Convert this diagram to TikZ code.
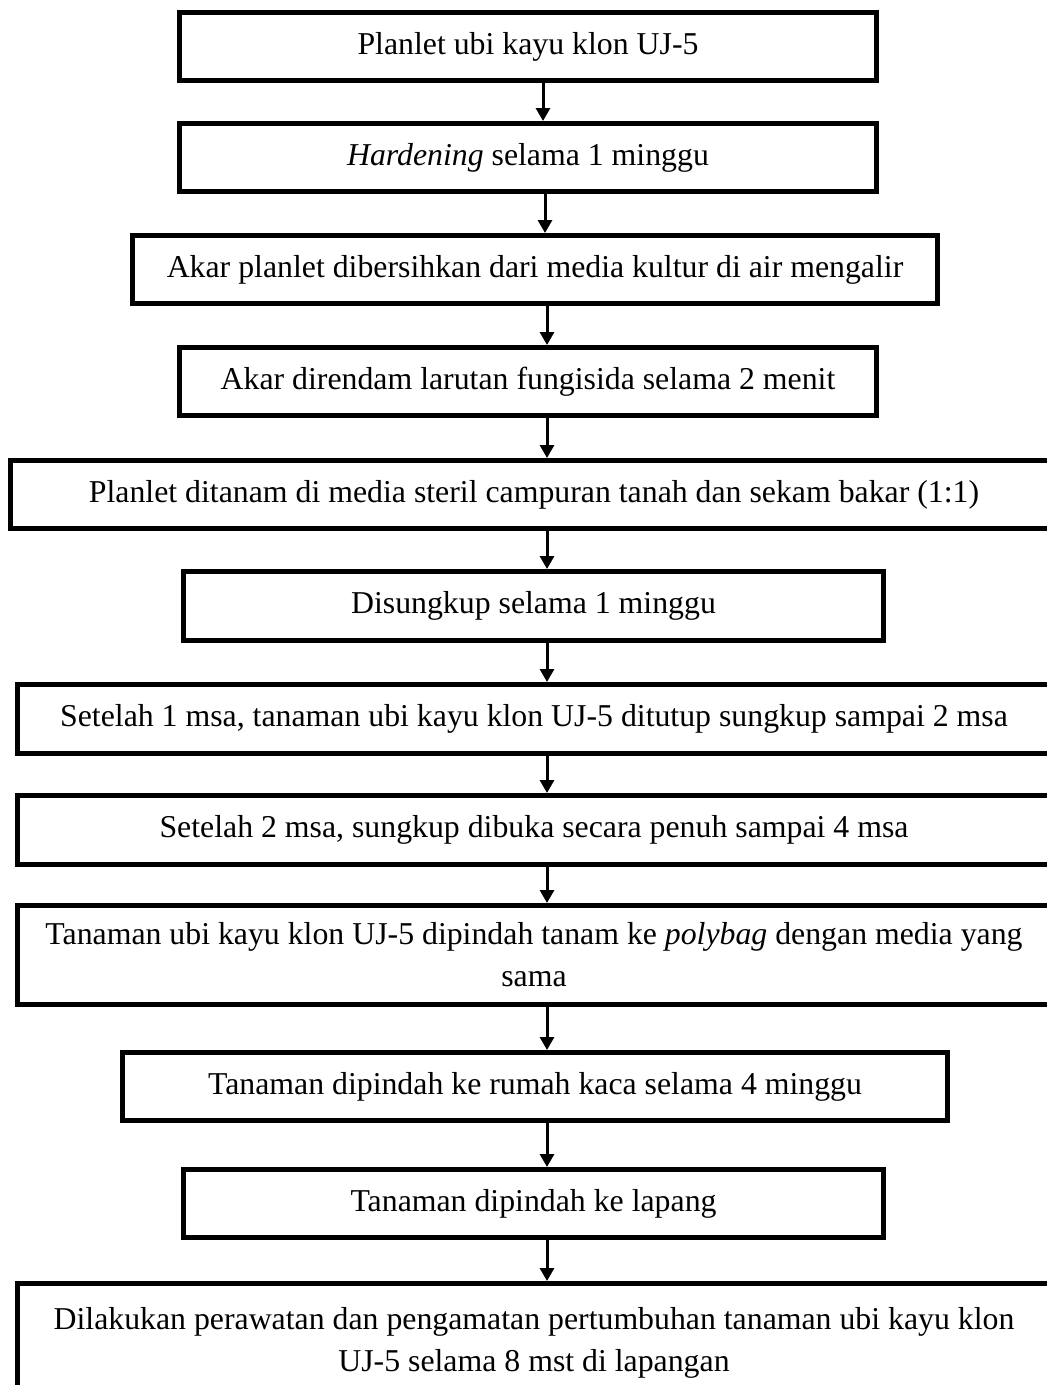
\documentclass[tikz,border=0pt]{standalone}
\usepackage{fontspec}
\setmainfont{Liberation Serif}
\usetikzlibrary{arrows.meta}
\begin{document}
\begin{tikzpicture}[x=1pt,y=-1pt,
  stepbox/.style={draw, line width=5pt, inner sep=0pt, align=center,
    font=\fontsize{31.8}{42}\selectfont},
  arr/.style={line width=3pt, -{Triangle[width=14pt,length=13pt]}}]
\clip (0,0) rectangle (1047,1385);
\fill[white] (0,0) rectangle (1047,1385);
\coordinate (axA) at (543,0);
\coordinate (axB) at (545,0);
\coordinate (ax) at (547,0);
\node[stepbox, minimum width=697pt, minimum height=68pt] (b1) at (528,46.5) {Planlet ubi kayu klon UJ-5};
\node[stepbox, minimum width=697pt, minimum height=68pt] (b2) at (528,157.5) {\textit{Hardening} selama 1 minggu};
\node[stepbox, minimum width=805pt, minimum height=68pt] (b3) at (535,269.5) {Akar planlet dibersihkan dari media kultur di air mengalir};
\node[stepbox, minimum width=697pt, minimum height=68pt] (b4) at (528,381.5) {Akar direndam larutan fungisida selama 2 menit};
\node[stepbox, minimum width=1047pt, minimum height=68pt] (b5) at (534,494.5) {Planlet ditanam di media steril campuran tanah dan sekam bakar (1:1)};
\node[stepbox, minimum width=700pt, minimum height=69pt] (b6) at (533.5,606) {Disungkup selama 1 minggu};
\node[stepbox, minimum width=1033pt, minimum height=69pt] (b7) at (534,719) {Setelah 1 msa, tanaman ubi kayu klon UJ-5 ditutup sungkup sampai 2 msa};
\node[stepbox, minimum width=1033pt, minimum height=69pt] (b8) at (534,830) {Setelah 2 msa, sungkup dibuka secara penuh sampai 4 msa};
\node[stepbox, minimum width=1033pt, minimum height=99pt] (b9) at (534,955) {Tanaman ubi kayu klon UJ-5 dipindah tanam ke \textit{polybag} dengan media yang\\sama};
\node[stepbox, minimum width=825pt, minimum height=68pt] (b10) at (535,1086.5) {Tanaman dipindah ke rumah kaca selama 4 minggu};
\node[stepbox, minimum width=700pt, minimum height=68pt] (b11) at (533.5,1203.5) {Tanaman dipindah ke lapang};
\node[stepbox, minimum width=1033pt, minimum height=118pt] (b12) at (534,1342.5) {Dilakukan perawatan dan pengamatan pertumbuhan tanaman ubi kayu klon\\UJ-5 selama 8 mst di lapangan};
\draw[arr] (b1.south -| axA) -- (b2.north -| axA);
\draw[arr] (b2.south -| axB) -- (b3.north -| axB);
\draw[arr] (b3.south -| ax) -- (b4.north -| ax);
\draw[arr] (b4.south -| ax) -- (b5.north -| ax);
\draw[arr] (b5.south -| ax) -- (b6.north -| ax);
\draw[arr] (b6.south -| ax) -- (b7.north -| ax);
\draw[arr] (b7.south -| ax) -- (b8.north -| ax);
\draw[arr] (b8.south -| ax) -- (b9.north -| ax);
\draw[arr] (b9.south -| ax) -- (b10.north -| ax);
\draw[arr] (b10.south -| ax) -- (b11.north -| ax);
\draw[arr] (b11.south -| ax) -- (b12.north -| ax);
\end{tikzpicture}
\end{document}
